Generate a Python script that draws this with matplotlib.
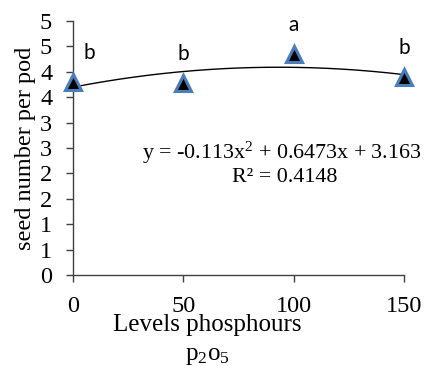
import numpy as np
import matplotlib
matplotlib.use("Agg")
import matplotlib.pyplot as plt

# ---- data ----
levels = [0, 50, 100, 150]
seed_number = [3.79, 3.77, 4.35, 3.89]
letters = ["b", "b", "a", "b"]
trend_coef = [-0.113, 0.6473, 3.163]   # Excel trendline, x = category index 1..4
y_ticks = [0, 0.5, 1, 1.5, 2, 2.5, 3, 3.5, 4, 4.5, 5]
y_tick_labels = ["0", "1", "1", "2", "2", "3", "3", "4", "4", "5", "5"]
x_ticks = [0, 50, 100, 150]
x_tick_labels = ["0", "50", "100", "150"]
equation_text = "y = -0.113x$^\\mathregular{2}$ + 0.6473x + 3.163"
r2_text = "R² = 0.4148"

plt.rcParams["font.family"] = ["Liberation Serif", "DejaVu Serif"]
plt.rcParams["mathtext.fontset"] = "custom"
plt.rcParams["mathtext.rm"] = "Liberation Serif"
plt.rcParams["mathtext.it"] = "Liberation Serif:italic"

fig = plt.figure(figsize=(4.28, 3.66), dpi=100)
ax = fig.add_axes([73 / 428, 1 - 275 / 366, (404 - 73) / 428, (275 - 21) / 366])

# trendline
xs = np.linspace(levels[0], levels[-1], 200)
idx = 1 + xs / 50.0
ys = trend_coef[0] * idx ** 2 + trend_coef[1] * idx + trend_coef[2]
ax.plot(xs, ys, color="black", lw=1.0, zorder=2)

# markers
ax.plot(levels, seed_number, linestyle="none", marker="^", markersize=11,
        markerfacecolor="black", markeredgecolor="#4a7ebb", markeredgewidth=2.2,
        zorder=3, clip_on=False)

# letters
for i, (x, y, t) in enumerate(zip(levels, seed_number, letters)):
    dx = 12 if i == 0 else 0
    ax.annotate(t, (x, y), xytext=(dx, 21), textcoords="offset points",
                ha="center", va="center", fontsize=15, family="Lato", color="black")

ax.set_xlim(0, 150)
ax.set_ylim(0, 5)
ax.set_xticks(x_ticks)
ax.set_xticklabels(x_tick_labels, fontsize=17.5, family="Liberation Serif")
ax.set_yticks(y_ticks)
ax.set_yticklabels(y_tick_labels, fontsize=17.5, family="Liberation Serif")
ax.tick_params(axis="both", direction="out", length=5, width=1, color="#404040")
ax.tick_params(axis="x", pad=10)
ax.tick_params(axis="y", pad=10)
for s in ["top", "right"]:
    ax.spines[s].set_visible(False)
for s in ["left", "bottom"]:
    ax.spines[s].set_color("#404040")
    ax.spines[s].set_linewidth(1)

ax.set_ylabel("seed number per pod", fontsize=17.5, labelpad=3)

fig.text(282 / 428, 1 - 153 / 366, equation_text, fontsize=15.8,
         ha="center", va="center")
fig.text(285 / 428, 1 - 178 / 366, r2_text, fontsize=15.8,
         ha="center", va="center")

fig.text(207 / 428, 1 - 325 / 366, "Levels phosphours", fontsize=18,
         ha="center", va="center")
fig.text(207 / 428, 1 - 356 / 366, "p$_\\mathregular{2}$o$_\\mathregular{5}$",
         fontsize=18, ha="center", va="center")

fig.savefig("out.png", dpi=100)
